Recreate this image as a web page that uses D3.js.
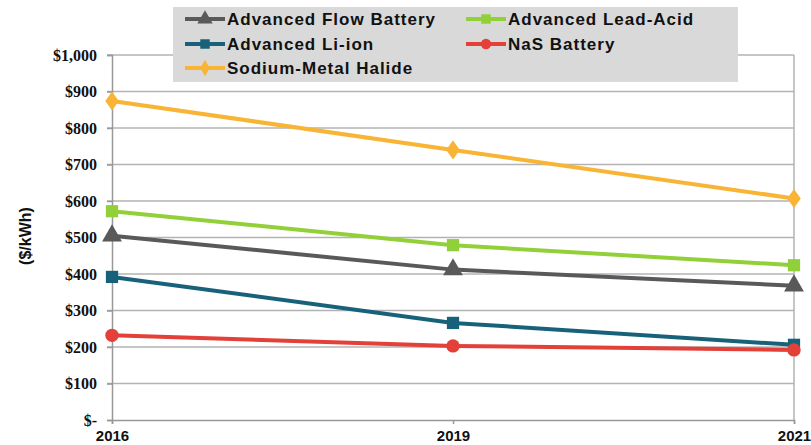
<!DOCTYPE html>
<html><head><meta charset="utf-8">
<script src="https://cdn.jsdelivr.net/npm/d3@7"></script>
<style>body{margin:0;background:#fff;} svg{display:block;}</style>
</head><body>
<svg id="c" width="811" height="445"></svg>
<script>
const years = ["2016", "2019", "2021"];
const flowBattery = [505, 412, 368];
const leadAcid = [572, 479, 424];
const liIon = [392, 266, 206];
const nasBattery = [232, 203, 192];
const sodiumMetalHalide = [874, 740, 607];
const yTicks = [0, 100, 200, 300, 400, 500, 600, 700, 800, 900, 1000];
const yTickLabels = ["$-", "$100", "$200", "$300", "$400", "$500", "$600", "$700", "$800", "$900", "$1,000"];
const seriesNames = ["Advanced Flow Battery", "Advanced Lead-Acid", "Advanced Li-ion", "NaS Battery", "Sodium-Metal Halide"];

const series = [
  {name: seriesNames[0], values: flowBattery, color: "#595959", marker: "triangle"},
  {name: seriesNames[1], values: leadAcid, color: "#92d03a", marker: "square"},
  {name: seriesNames[2], values: liIon, color: "#17627a", marker: "square"},
  {name: seriesNames[3], values: nasBattery, color: "#e3403a", marker: "circle"},
  {name: seriesNames[4], values: sodiumMetalHalide, color: "#f8b434", marker: "diamond"}
];

const svg = d3.select("#c");
const L = 112, R = 794, T = 55, B = 420;
const x = d3.scalePoint().domain(years).range([L, R]);
const y = d3.scaleLinear().domain([0, 1000]).range([B, T]);

// gridlines
svg.append("g").selectAll("line").data(yTicks.filter(d => d > 0)).join("line")
  .attr("x1", L - 5).attr("x2", R).attr("y1", d => y(d)).attr("y2", d => y(d))
  .attr("stroke", "#b3b3b3").attr("stroke-width", 1.5);
// right border
svg.append("line").attr("x1", R).attr("x2", R).attr("y1", T).attr("y2", B)
  .attr("stroke", "#b3b3b3").attr("stroke-width", 1.5);

// y axis
const yAxis = d3.axisLeft(y).tickValues(yTicks).tickFormat((d, i) => yTickLabels[i]).tickSize(5).tickPadding(10);
const gy = svg.append("g").attr("transform", `translate(${L},0)`).call(yAxis);
gy.select(".domain").attr("stroke", "#999").attr("stroke-width", 1.5);
gy.selectAll(".tick line").attr("stroke", "#999").attr("stroke-width", 1.5);
gy.selectAll("text").attr("font-family", "Liberation Serif, Times New Roman, serif")
  .attr("font-weight", "bold").attr("font-size", 16).attr("fill", "#111");

// x axis
const xAxis = d3.axisBottom(x).tickSize(4).tickPadding(6);
const gx = svg.append("g").attr("transform", `translate(0,${B})`).call(xAxis);
gx.select(".domain").attr("stroke", "#999").attr("stroke-width", 1.5);
gx.selectAll(".tick line").attr("stroke", "#999").attr("stroke-width", 1.5);
gx.selectAll("text").attr("font-family", "Liberation Sans, Arial, sans-serif")
  .attr("font-weight", "bold").attr("font-size", 15).attr("fill", "#111");

// y title
svg.append("text").attr("transform", "translate(31,236) rotate(-90)")
  .attr("text-anchor", "middle").attr("font-family", "Liberation Sans, Arial, sans-serif")
  .attr("font-weight", "bold").attr("font-size", 16).attr("fill", "#111").text("($/kWh)");

function markerPath(type, size) {
  const map = {triangle: d3.symbolTriangle, square: d3.symbolSquare, circle: d3.symbolCircle, diamond: d3.symbolDiamond};
  return d3.symbol().type(map[type]).size(size)();
}
const markerSize = {triangle: 170, square: 150, circle: 140, diamond: 130};

const line = d3.line().x((d, i) => x(years[i])).y(d => y(d));
const drawOrder = [4, 1, 0, 2, 3];
drawOrder.forEach(k => {
  const s = series[k];
  const g = svg.append("g");
  g.append("path").attr("d", line(s.values)).attr("fill", "none")
    .attr("stroke", s.color).attr("stroke-width", 4);
  g.selectAll("path.m").data(s.values).join("path").attr("class", "m")
    .attr("d", markerPath(s.marker, markerSize[s.marker]))
    .attr("transform", (d, i) => `translate(${x(years[i])},${y(d)})` + (s.marker === "diamond" ? " scale(1.1,0.9)" : ""))
    .attr("fill", s.color);
});

// legend
const lg = svg.append("g");
lg.append("rect").attr("x", 173).attr("y", 7).attr("width", 565).attr("height", 75).attr("fill", "#d9d9d9");
const legendPos = [
  {col: 0, row: 0}, {col: 1, row: 0}, {col: 0, row: 1}, {col: 1, row: 1}, {col: 0, row: 2}
];
const colX = [185, 466], rowY = [19, 44, 68];
series.forEach((s, i) => {
  const p = legendPos[i];
  const lx = colX[p.col], ly = rowY[p.row];
  lg.append("line").attr("x1", lx).attr("x2", lx + 40).attr("y1", ly).attr("y2", ly)
    .attr("stroke", s.color).attr("stroke-width", 4);
  lg.append("path").attr("d", markerPath(s.marker, markerSize[s.marker] * 0.6))
    .attr("transform", `translate(${lx + 20},${ly})`).attr("fill", s.color);
  lg.append("text").attr("x", lx + 42).attr("y", ly + 6)
    .attr("font-family", "Liberation Sans, Arial, sans-serif").attr("font-weight", "bold")
    .attr("font-size", 17).attr("letter-spacing", 1).attr("fill", "#111").text(s.name);
});
</script>
</body></html>
